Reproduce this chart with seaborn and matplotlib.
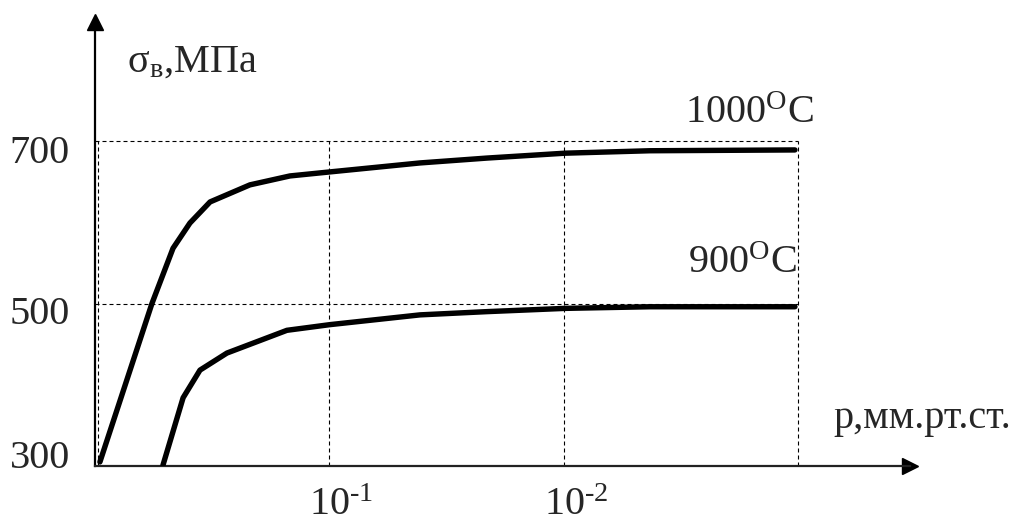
import matplotlib
matplotlib.use("Agg")
import matplotlib.pyplot as plt
import matplotlib.transforms as mtransforms
import seaborn as sns
import pandas as pd

# ---- data (x: log-position, 0 = origin, 1 = 10^-1, 2 = 10^-2, 3 = 10^-3) ----
x_1000 = [0.021, 0.243, 0.333, 0.405, 0.491, 0.661, 0.832, 1.004, 1.387, 1.673, 2.006, 2.368, 2.987]
y_1000 = [305, 500, 568, 599, 625, 646, 657, 662, 673, 679, 685, 688, 689]
x_900 = [0.290, 0.376, 0.448, 0.563, 0.819, 1.003, 1.387, 1.673, 2.006, 2.368, 2.987]
y_900 = [301, 384, 418, 439, 467, 474, 486, 490, 494, 496, 496]
series_names = ["1000", "900"]
y_ticks = [300, 500, 700]
y_tick_labels = ["300", "500", "700"]
x_ticks = [1, 2]
x_tick_labels = ["10$^{\\mathrm{\u20101}}$", "10$^{\\mathrm{\u20102}}$"]
grid_x = [0.012, 1, 2, 3]
grid_y = [500, 700]

df = pd.concat([
    pd.DataFrame({"x": x_1000, "y": y_1000, "T": series_names[0]}),
    pd.DataFrame({"x": x_900, "y": y_900, "T": series_names[1]}),
])

sns.set_style("white")
plt.rcParams["font.family"] = ["Liberation Serif", "DejaVu Serif"]
plt.rcParams["mathtext.fontset"] = "custom"
plt.rcParams["mathtext.rm"] = "Liberation Serif"
plt.rcParams["mathtext.it"] = "Liberation Serif:italic"
plt.rcParams["mathtext.bf"] = "Liberation Serif:bold"

fig = plt.figure(figsize=(10.27, 5.26), dpi=100)
ax = fig.add_axes([95 / 1027, 60 / 526, 815 / 1027, 444 / 526])

px_x = 234.33
px_y = 0.8125
ax.set_xlim(0, 815 / px_x)
ax.set_ylim(300, 300 + 444 / px_y)

# dashed reference lines
dash = dict(color="black", lw=0.8, dashes=(3.6, 2.7), zorder=1)
for gy in grid_y:
    ax.plot([0, 3], [gy, gy], **dash)
for gx in grid_x:
    ax.plot([gx, gx], [300, 700], **dash)

sns.lineplot(data=df, x="x", y="y", hue="T", palette=["black", "black"],
             lw=3.9, legend=False, sort=False, ax=ax, zorder=3)

# axes styling
for s in ["top", "right"]:
    ax.spines[s].set_visible(False)
ax.spines["left"].set_linewidth(1.6)
ax.spines["bottom"].set_linewidth(1.6)
ax.spines["left"].set_color("black")
ax.spines["bottom"].set_color("#222222")
ax.plot(0, 1, marker="^", color="black", ms=11, transform=ax.get_xaxis_transform(),
        clip_on=False)
ax.plot(1, 300, marker=">", color="black", ms=11, transform=ax.get_yaxis_transform(),
        clip_on=False)

ax.set_yticks(y_ticks)
ax.set_yticklabels(y_tick_labels)
ax.set_xticks(x_ticks)
ax.set_xticklabels(x_tick_labels)
ax.tick_params(axis="y", length=0, pad=18, labelsize=29)
ax.tick_params(axis="x", length=0, pad=15, labelsize=29)
ax.set_xlabel("")
ax.set_ylabel("")

# fine offsets of tick labels (in points)
y_offsets = [9, -5, -6]
for lab, dy in zip(ax.get_yticklabels(), y_offsets):
    lab.set_transform(lab.get_transform() +
                      mtransforms.ScaledTranslation(0, dy / 72, fig.dpi_scale_trans))
for lab in ax.get_xticklabels():
    lab.set_ha("left")
    lab.set_transform(lab.get_transform() +
                      mtransforms.ScaledTranslation(-14.5 / 72, 0, fig.dpi_scale_trans))

ax.text(0.137, 785, r"$\mathrm{σ}_{\mathrm{в}}$,МПа", fontsize=29, ha="left", va="baseline")
ax.text(2.518, 722, r"1000$^{\mathrm{O}}$C", fontsize=29, ha="left", va="baseline")
ax.text(2.531, 537, r"900$^{\mathrm{O}}$C", fontsize=29, ha="left", va="baseline")
ax.text(3.149, 347, "p,мм.рт.ст.", fontsize=29, ha="left", va="baseline", clip_on=False)

fig.savefig("out.png", dpi=100)
